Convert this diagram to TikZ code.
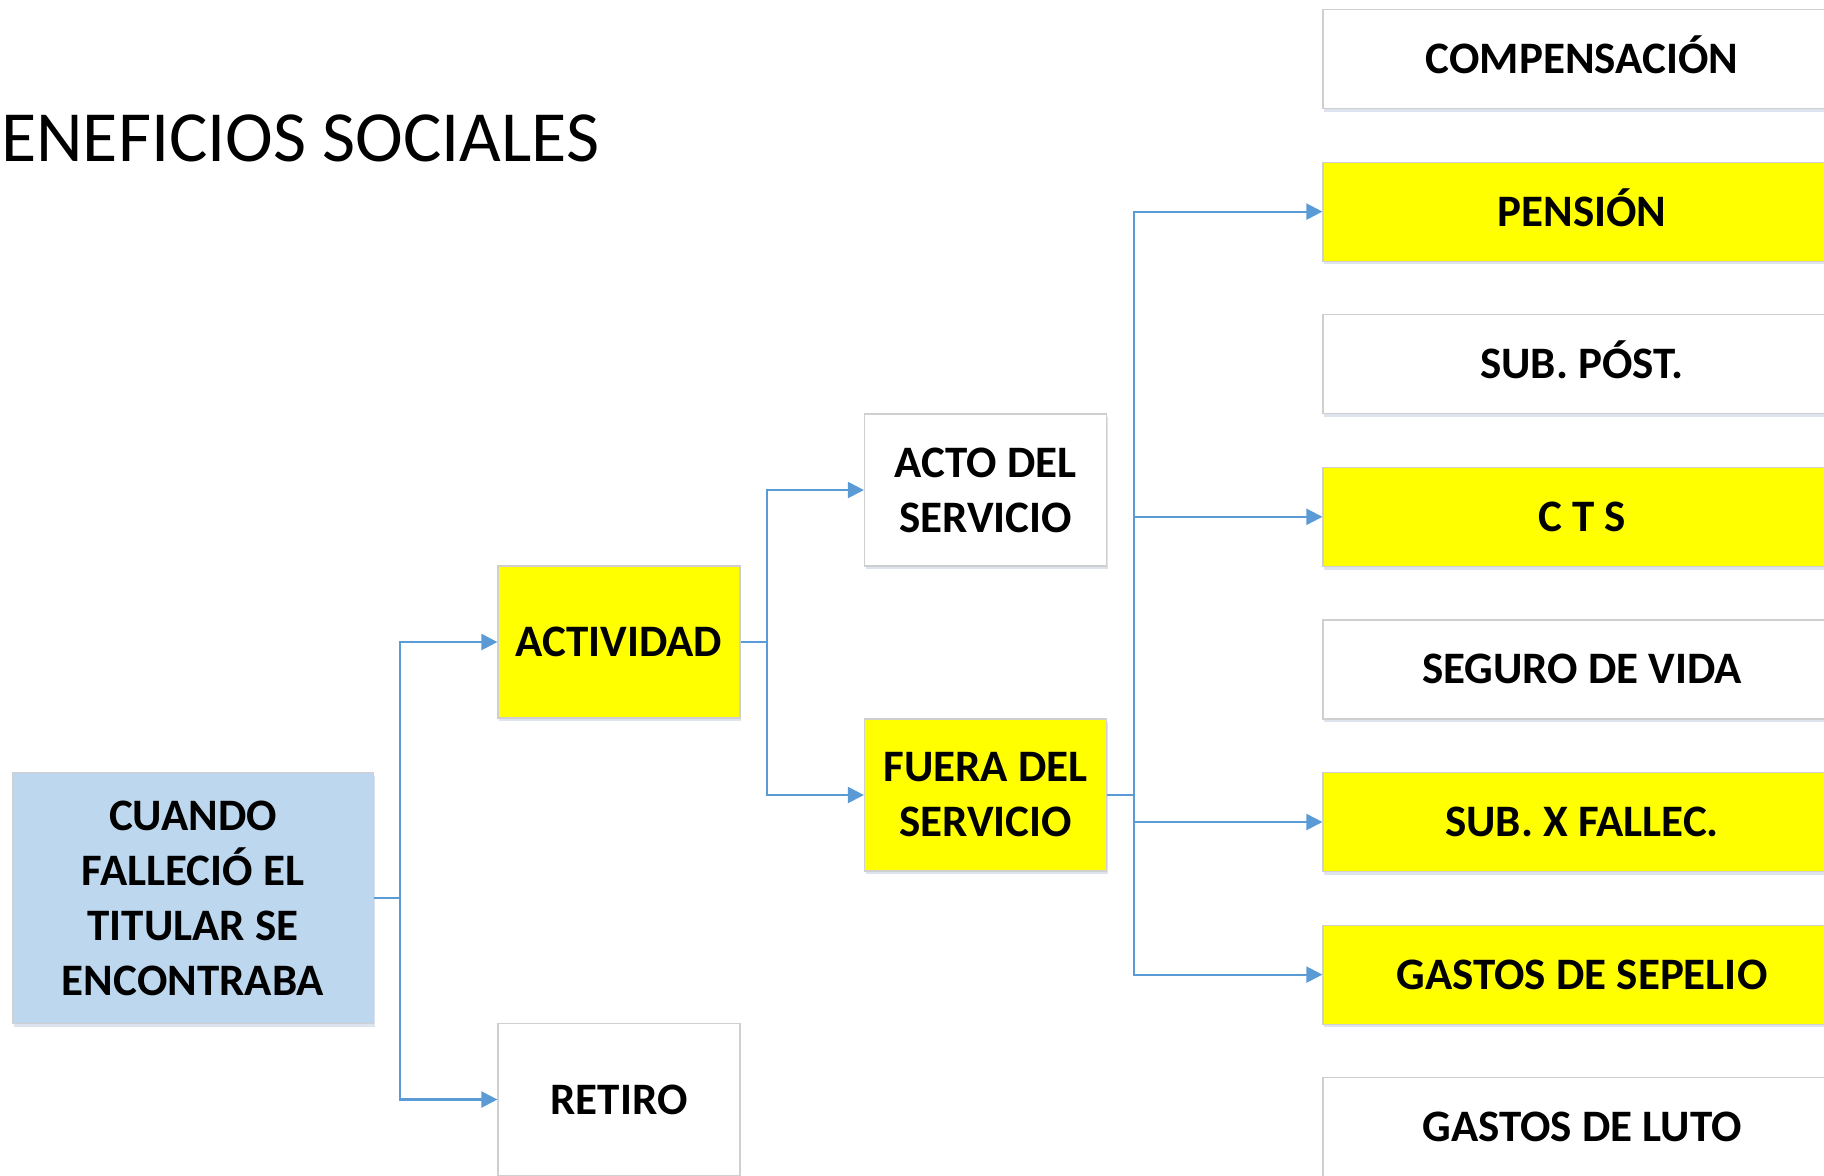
\documentclass[tikz,border=0pt]{standalone}
\usepackage{fontspec}
\setmainfont{Carlito}
\usetikzlibrary{arrows.meta,shadows}
\definecolor{conncol}{HTML}{5B9BD5}
\definecolor{boxline}{HTML}{CFCFCF}
\definecolor{ybox}{HTML}{FFFF00}
\definecolor{bbox}{HTML}{BDD7EE}
\definecolor{shad}{HTML}{B4C3D7}
\tikzset{
  box/.style={draw=boxline, line width=0.6pt, align=center, inner sep=0pt,
    font=\bfseries\fontsize{22.5}{27.5}\selectfont,
    drop shadow={shadow xshift=0.6pt, shadow yshift=-1.6pt, fill=shad, opacity=0.45}},
  whitebox/.style={box, fill=white},
  yellowbox/.style={box, fill=ybox},
  bluebox/.style={box, fill=bbox},
  capfix/.style={text height=14.5pt, text depth=0pt},
  rightbox/.style={minimum width=259pt, minimum height=49.5pt, capfix},
  midbox/.style={minimum width=121pt, minimum height=76pt},
  conn/.style={draw=conncol, line width=1.1pt, -{Triangle[length=8pt,width=8pt]}},
  plainconn/.style={draw=conncol, line width=1.1pt},
}
\begin{document}
\begin{tikzpicture}[x=0.5pt,y=-0.5pt]
\useasboundingbox (0,0) rectangle (1824,1175);
\begin{scope}
\clip (0,0) rectangle (1824,1175);
\node[anchor=base east, inner sep=0pt, font=\fontsize{36}{43}\selectfont] (title) at (600,161) {BENEFICIOS SOCIALES};
\end{scope}

\node[bluebox, minimum width=180.3pt, minimum height=125.6pt] (cuando) at (193,898) {CUANDO\\FALLECIÓ EL\\TITULAR SE\\ENCONTRABA};
\node[yellowbox, midbox, capfix] (activ) at (619,642) {ACTIVIDAD};
\node[whitebox, midbox, capfix] (retiro) at (619,1099.5) {RETIRO};
\node[whitebox, midbox] (acto) at (985.5,490) {ACTO DEL\\SERVICIO};
\node[yellowbox, midbox] (fuera) at (985.5,795) {FUERA DEL\\SERVICIO};

\node[whitebox, rightbox] (comp) at (1582,59) {COMPENSACIÓN};
\node[yellowbox, rightbox] (pens) at (1582,211.6) {PENSIÓN};
\node[whitebox, rightbox] (subpost) at (1582,364.2) {SUB. PÓST.};
\node[yellowbox, rightbox] (cts) at (1582,516.8) {C T S};
\node[whitebox, rightbox] (seguro) at (1582,669.4) {SEGURO DE VIDA};
\node[yellowbox, rightbox] (fallec) at (1582,822) {SUB. X FALLEC.};
\node[yellowbox, rightbox] (sepelio) at (1582,974.6) {GASTOS DE SEPELIO};
\node[whitebox, rightbox] (luto) at (1582,1127.2) {GASTOS DE LUTO};

\coordinate (j1) at (400,898);
\coordinate (j2) at (766.6,642);
\coordinate (j3) at (1134,795);

\draw[plainconn] (cuando.east) -- (j1);
\draw[conn] (j1) |- (activ.west);
\draw[conn] (j1) |- (retiro.west);

\draw[plainconn] (activ.east) -- (j2);
\draw[conn] (j2) |- (acto.west);
\draw[conn] (j2) |- (fuera.west);

\draw[plainconn] (fuera.east) -- (j3);
\draw[conn] (j3) |- (pens.west);
\draw[conn] (j3) |- (cts.west);
\draw[conn] (j3) |- (fallec.west);
\draw[conn] (j3) |- (sepelio.west);
\end{tikzpicture}
\end{document}
